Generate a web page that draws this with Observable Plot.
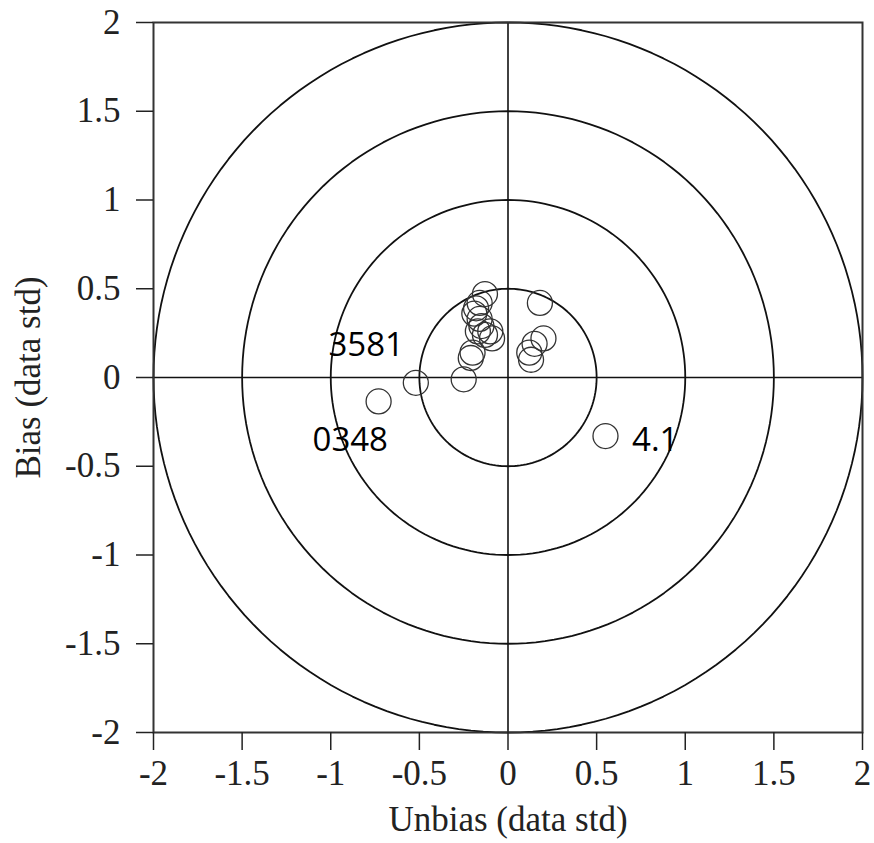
<!DOCTYPE html>
<html>
<head>
<meta charset="utf-8">
<script src="https://cdn.jsdelivr.net/npm/d3@7"></script>
<script src="https://cdn.jsdelivr.net/npm/@observablehq/plot@0.6"></script>
<style>
  html, body { margin: 0; padding: 0; background: #fff; }
</style>
</head>
<body>
<div id="chart"></div>
<script>
// Data
const unbias = [-0.13, -0.16, -0.18, -0.19, -0.16, -0.15, -0.17, -0.10, -0.09, -0.13, -0.20, -0.21, -0.25, -0.52, -0.73, 0.18, 0.20, 0.15, 0.12, 0.13, 0.55];
const bias   = [ 0.47,  0.42,  0.39,  0.36,  0.33,  0.29,  0.26,  0.26,  0.22,  0.24,  0.14,  0.11, -0.01, -0.03, -0.135, 0.42, 0.22, 0.19, 0.14, 0.10, -0.33];
const ringRadii = [0.5, 1, 1.5, 2];
const tickValues = [-2, -1.5, -1, -0.5, 0, 0.5, 1, 1.5, 2];
const labelTexts = ["3581", "0348", "4.1"];
const labelX = [-0.80, -0.89, 0.70];
const labelY = [0.18, -0.355, -0.355];
const labelAnchor = ["middle", "middle", "start"];

const points = unbias.map((x, i) => ({x, y: bias[i]}));
const rings = ringRadii.flatMap(r => d3.range(0, 361, 2).map(a => ({r, x: r * Math.cos(a * Math.PI / 180), y: r * Math.sin(a * Math.PI / 180)})));
const labels = labelTexts.map((t, i) => ({t, x: labelX[i], y: labelY[i], anchor: labelAnchor[i]}));

const chart = Plot.plot({
  width: 874,
  height: 843,
  marginLeft: 153,
  marginRight: 12,
  marginTop: 22,
  marginBottom: 111,
  style: {fontFamily: "'Liberation Serif', serif", fontSize: "35px", color: "#222", background: "#fff"},
  x: {domain: [-2, 2]},
  y: {domain: [-2, 2]},
  marks: [
    Plot.line(rings, {x: "x", y: "y", z: "r", stroke: "#111", strokeWidth: 1.8}),
    Plot.ruleX([0], {y1: -2, y2: 2, stroke: "#111", strokeWidth: 1.6}),
    Plot.ruleY([0], {x1: -2, x2: 2, stroke: "#111", strokeWidth: 1.6}),
    Plot.dot(points, {x: "x", y: "y", r: 12.5, stroke: "#333", strokeWidth: 1.3, fill: "none"}),
    Plot.text(labels.filter(d => d.anchor === "middle"), {x: "x", y: "y", text: "t", textAnchor: "middle", fontFamily: "'Open Sans', sans-serif", fontSize: 33, fill: "#000"}),
    Plot.text(labels.filter(d => d.anchor === "start"), {x: "x", y: "y", text: "t", textAnchor: "start", fontFamily: "'Open Sans', sans-serif", fontSize: 33, fill: "#000"}),
    Plot.frame({stroke: "#333", strokeWidth: 2}),
    Plot.axisX({ticks: tickValues, tickFormat: d => String(d), tickSize: 18, tickPadding: 10, strokeWidth: 1.5, label: "Unbias (data std)", labelAnchor: "center", labelArrow: "none", labelOffset: 98}),
    Plot.axisY({ticks: tickValues, tickFormat: d => String(d), tickSize: 17, tickPadding: 16, strokeWidth: 1.5, label: "Bias (data std)", labelAnchor: "center", labelArrow: "none", labelOffset: 138})
  ]
});
document.getElementById("chart").appendChild(chart);
</script>
</body>
</html>
